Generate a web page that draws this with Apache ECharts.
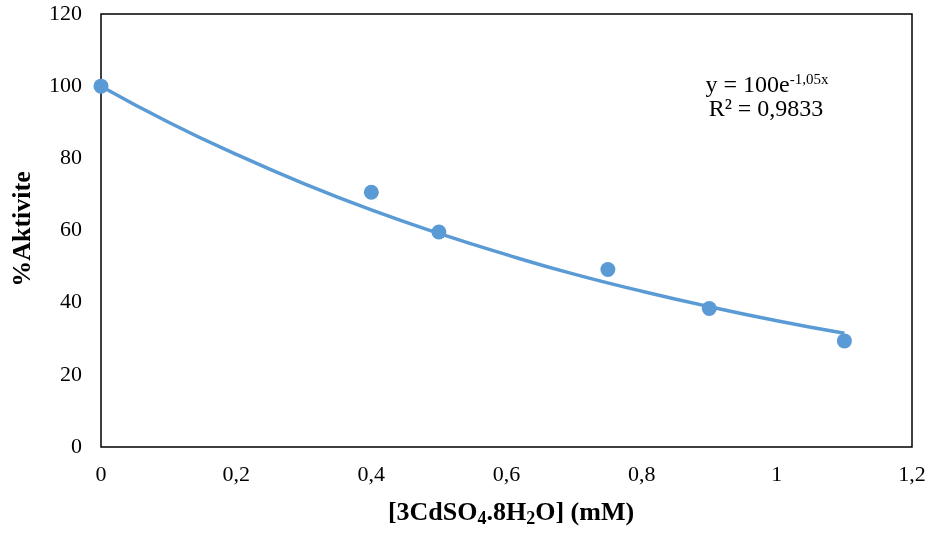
<!DOCTYPE html>
<html>
<head>
<meta charset="utf-8">
<script src="https://cdn.jsdelivr.net/npm/echarts@6/dist/echarts.min.js"></script>
<style>
  html, body { margin: 0; padding: 0; background: #fff; }
  #chart { width: 936px; height: 536px; }
</style>
</head>
<body>
<div id="chart"></div>
<script>
// measured points
const concs = [0, 0.4, 0.5, 0.75, 0.9, 1.1];
const activity = [100, 70.6, 59.6, 49.2, 38.4, 29.4];
// trendline
const trendX = [0, 0.1, 0.2, 0.3, 0.4, 0.5, 0.6, 0.7, 0.8, 0.9, 1.0, 1.1];
const trendY = [100, 90.0, 81.1, 73.0, 65.7, 59.2, 53.3, 47.9, 43.2, 38.9, 35.0, 31.5];

const blue = '#5B9BD5';
const serif = '"Liberation Serif", "Times New Roman", serif';

const chart = echarts.init(document.getElementById('chart'));

// x axis title with real subscripts: pieces laid out one after another
const mainFont = 'bold 26px ' + serif;
const subFont = 'bold 18px ' + serif;
const titleParts = [
    { t: '[3CdSO', sub: false },
    { t: '4', sub: true },
    { t: '.8H', sub: false },
    { t: '2', sub: true },
    { t: 'O] (mM)', sub: false }
];
const ctx = document.createElement('canvas').getContext('2d');
titleParts.forEach(p => {
    ctx.font = p.sub ? subFont : mainFont;
    p.w = ctx.measureText(p.t).width;
});
const totalW = titleParts.reduce((s, p) => s + p.w, 0);
let cx = 511 - totalW / 2;
const titleEls = titleParts.map(p => {
    const el = {
        type: 'text',
        x: cx,
        y: p.sub ? 519 : 513,
        style: {
            text: p.t,
            font: p.sub ? subFont : mainFont,
            fill: '#000',
            align: 'left',
            verticalAlign: 'middle'
        }
    };
    cx += p.w;
    return el;
});

const option = {
    animation: false,
    textStyle: { fontFamily: serif },
    grid: {
        left: 101, right: 24, top: 14, bottom: 89,
        show: true,
        borderColor: '#000',
        borderWidth: 1.5
    },
    xAxis: {
        type: 'value',
        min: 0, max: 1.2, interval: 0.2,
        axisLine: { show: false },
        axisTick: { show: false },
        splitLine: { show: false },
        axisLabel: {
            margin: 17,
            color: '#000',
            fontSize: 22,
            fontFamily: serif,
            formatter: v => String(+v.toFixed(1)).replace('.', ',')
        }
    },
    yAxis: {
        type: 'value',
        min: 0, max: 120, interval: 20,
        axisLine: { show: false },
        axisTick: { show: false },
        splitLine: { show: false },
        axisLabel: { margin: 19, color: '#000', fontSize: 22, fontFamily: serif }
    },
    series: [
        {
            type: 'line',
            data: trendX.map((x, i) => [x, trendY[i]]),
            smooth: true,
            symbol: 'none',
            lineStyle: { color: blue, width: 3.5 },
            z: 2
        },
        {
            type: 'scatter',
            data: concs.map((x, i) => [x, activity[i]]),
            symbolSize: 15,
            itemStyle: { color: blue, opacity: 1 },
            z: 3
        }
    ],
    graphic: [
        {
            type: 'text',
            x: 23, y: 229,
            rotation: Math.PI / 2,
            style: {
                text: '%Aktivite',
                font: 'bold 26px ' + serif,
                fill: '#000',
                align: 'center',
                verticalAlign: 'middle'
            }
        },
        ...titleEls,
        {
            type: 'text',
            x: 767, y: 86,
            style: {
                text: 'y = 100e{sup|-1,05x}',
                font: '24px ' + serif,
                fill: '#000',
                align: 'center',
                verticalAlign: 'middle',
                rich: {
                    sup: { font: '15px ' + serif, fill: '#000', padding: [0, 0, 12, 0] }
                }
            }
        },
        {
            type: 'text',
            x: 766, y: 110,
            style: {
                text: 'R² = 0,9833',
                font: '24px ' + serif,
                fill: '#000',
                align: 'center',
                verticalAlign: 'middle'
            }
        }
    ]
};

chart.setOption(option);
</script>
</body>
</html>
